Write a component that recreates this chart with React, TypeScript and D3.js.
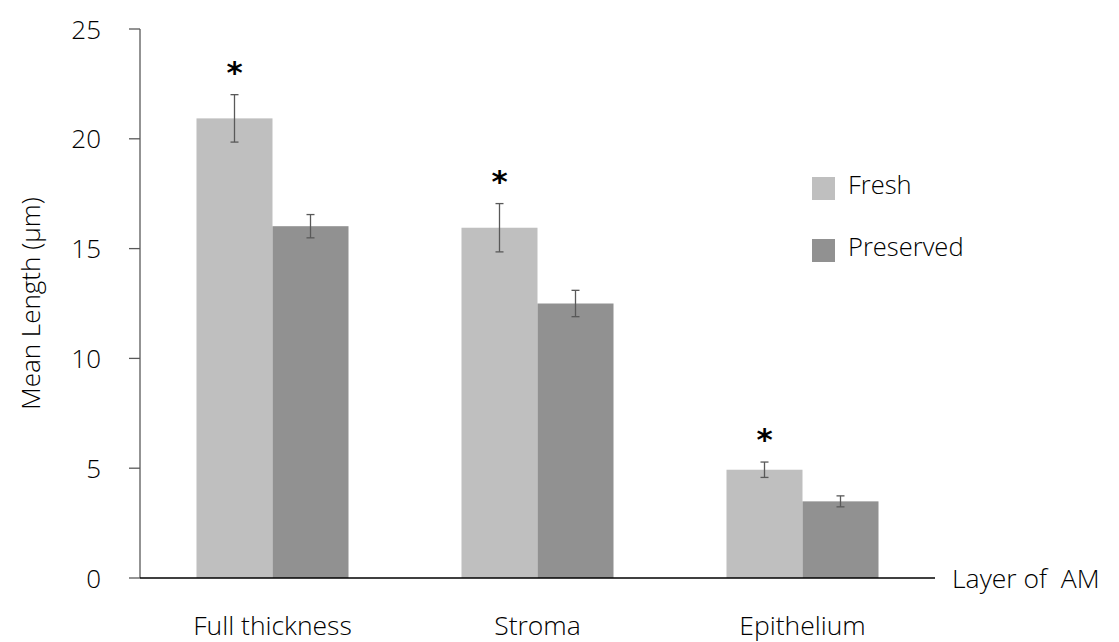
import React from "react";
import * as d3 from "d3";

const categories = ["Full thickness", "Stroma", "Epithelium"];
const seriesNames = ["Fresh", "Preserved"];
const freshValues = [20.93, 15.95, 4.93];
const freshErrors = [1.08, 1.1, 0.35];
const preservedValues = [16.02, 12.5, 3.49];
const preservedErrors = [0.53, 0.6, 0.25];
const significant = [true, true, true];
const yTicks = [0, 5, 10, 15, 20, 25];
const colors = ["#bfbfbf", "#919191"];

const W = 1119;
const H = 642;
const FONT = "'Open Sans', 'Noto Sans', sans-serif";

export default function App() {
  const x = d3
    .scaleBand<string>()
    .domain(categories)
    .range([140, 935])
    .paddingInner(0.4264)
    .paddingOuter(0.2132);
  const xs = d3.scaleBand<string>().domain(seriesNames).range([0, x.bandwidth()]);
  const y = d3.scaleLinear().domain([0, 25]).range([578, 29]);

  const series = [
    { name: seriesNames[0], values: freshValues, errors: freshErrors, color: colors[0] },
    { name: seriesNames[1], values: preservedValues, errors: preservedErrors, color: colors[1] },
  ];

  return (
    <svg
      width={W}
      height={H}
      style={{ position: "absolute", left: 0, top: 0, background: "#fff" }}
      fontFamily={FONT}
      fontWeight={300}
    >
      {series.map((s) =>
        categories.map((c, i) => {
          const x0 = (x(c) as number) + (xs(s.name) as number);
          const w = xs.bandwidth();
          return (
            <rect
              key={s.name + c}
              x={x0}
              y={y(s.values[i])}
              width={w}
              height={y(0) - y(s.values[i])}
              fill={s.color}
            />
          );
        })
      )}
      {series.map((s) =>
        categories.map((c, i) => {
          const cx = (x(c) as number) + (xs(s.name) as number) + xs.bandwidth() / 2;
          const top = y(s.values[i] + s.errors[i]);
          const bot = y(s.values[i] - s.errors[i]);
          return (
            <g key={"e" + s.name + c} stroke="#595959" strokeWidth={1.3}>
              <line x1={cx} x2={cx} y1={top} y2={bot} />
              <line x1={cx - 4} x2={cx + 4} y1={top} y2={top} />
              <line x1={cx - 4} x2={cx + 4} y1={bot} y2={bot} />
            </g>
          );
        })
      )}
      {categories.map((c, i) =>
        significant[i] ? (
          <text
            key={"a" + c}
            x={(x(c) as number) + (xs(seriesNames[0]) as number) + xs.bandwidth() / 2}
            y={y(freshValues[i] + freshErrors[i]) - 12}
            textAnchor="middle"
            fontSize={31}
            fontWeight="bold"
            fontFamily="'DejaVu Sans', sans-serif"
            fill="#000"
          >
            *
          </text>
        ) : null
      )}
      <line x1={140} x2={140} y1={y(25)} y2={y(0)} stroke="#595959" strokeWidth={1.3} />
      {yTicks.map((t) => (
        <g key={"t" + t}>
          <line x1={129} x2={140} y1={y(t)} y2={y(t)} stroke="#595959" strokeWidth={1.3} />
          <text
            x={101}
            y={y(t) + 9.5}
            textAnchor="end"
            fontSize={26}
            fill="#000"
          >
            {t}
          </text>
        </g>
      ))}
      <line x1={140} x2={935} y1={y(0)} y2={y(0)} stroke="#000" strokeWidth={1.3} />
      {categories.map((c) => (
        <text
          key={"l" + c}
          x={(x(c) as number) + x.bandwidth() / 2}
          y={635}
          textAnchor="middle"
          fontSize={26.5}
          fill="#000"
        >
          {c}
        </text>
      ))}
      <text x={952} y={y(0) + 9.5} fontSize={26.5} fill="#000" xmlSpace="preserve">
        {"Layer of  AM"}
      </text>
      <text
        transform={`translate(40, ${(y(0) + y(25)) / 2}) rotate(-90)`}
        textAnchor="middle"
        fontSize={26}
        fill="#000"
      >
        Mean Length (μm)
      </text>
      {series.map((s, i) => (
        <g key={"lg" + s.name} transform={`translate(812, ${177 + i * 62})`}>
          <rect width={23} height={23} fill={s.color} />
          <text x={36} y={16.5} fontSize={25.5} fill="#000">
            {s.name}
          </text>
        </g>
      ))}
    </svg>
  );
}
